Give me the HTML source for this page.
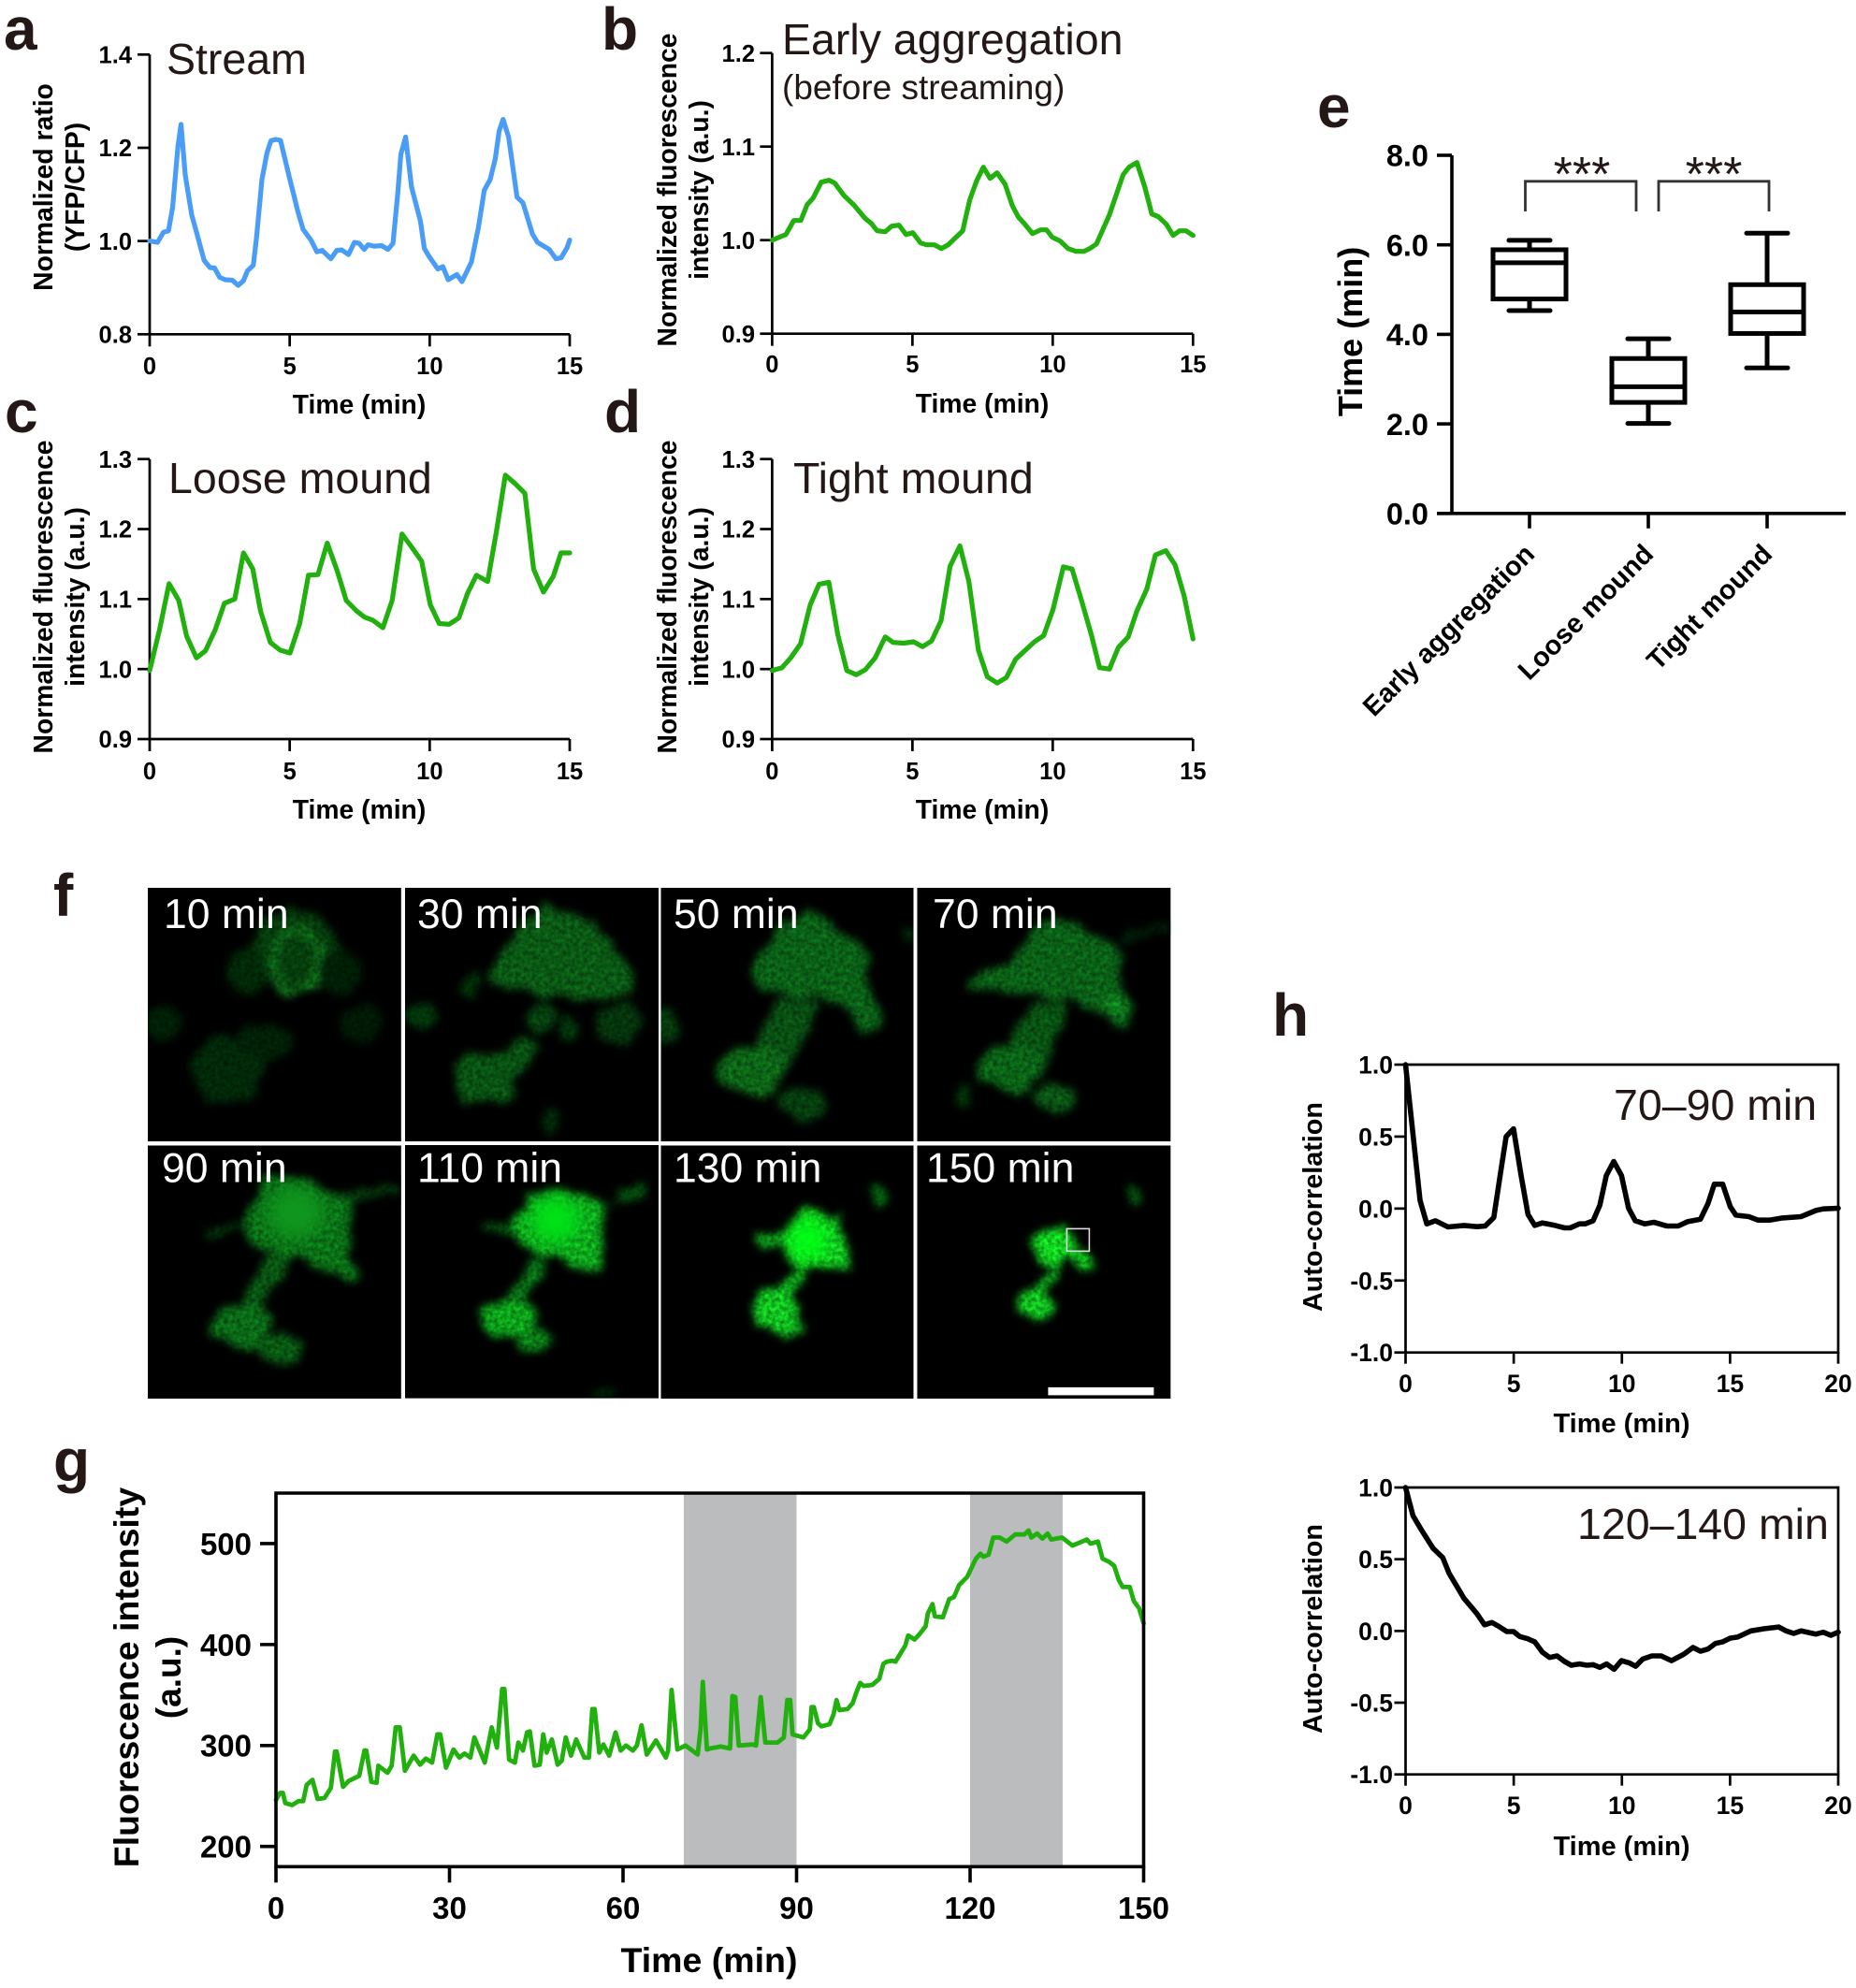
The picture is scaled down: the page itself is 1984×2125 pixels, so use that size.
<!DOCTYPE html>
<html lang="en">
<head>
<meta charset="utf-8">
<title>Fluorescence oscillation figure</title>
<style>
html,body{margin:0;padding:0;background:#fff;}
body{width:1984px;height:2125px;overflow:hidden;}
svg{display:block;}
text{font-family:"Liberation Sans",Arial,sans-serif;}
.letter{font-size:64px;font-weight:700;fill:#231815;}
.title{font-size:46.5px;fill:#231815;}
.axt{font-size:28.3px;font-weight:700;fill:#000;}
.mic{font-size:44.5px;fill:#fff;}
.cat{font-size:29px;font-weight:700;fill:#000;}
</style>
</head>
<body>
<svg id="figure" xmlns="http://www.w3.org/2000/svg" width="1984" height="2125" viewBox="0 0 1984 2125">
<defs>
<filter id="b1" x="-25%" y="-25%" width="150%" height="150%" color-interpolation-filters="sRGB">
<feTurbulence type="fractalNoise" baseFrequency=".04" numOctaves="3" seed="4" result="n"/>
<feDisplacementMap in="SourceGraphic" in2="n" scale="20" xChannelSelector="R" yChannelSelector="G" result="d"/>
<feGaussianBlur in="d" stdDeviation="4.5" result="s"/>
<feTurbulence type="fractalNoise" baseFrequency=".22" numOctaves="2" seed="9" result="g"/>
<feColorMatrix in="g" type="matrix" values="0 1 0 0 0  0 1 0 0 0  0 1 0 0 0  0 0 0 0 1" result="gray"/>
<feComposite in="s" in2="gray" operator="arithmetic" k1="1" k2=".5" k3="0" k4="0"/>
</filter>
<filter id="b2" x="-60%" y="-60%" width="220%" height="220%" color-interpolation-filters="sRGB"><feGaussianBlur stdDeviation="9"/></filter>
</defs>
<rect width="1984" height="2125" fill="#fff"/>

<!-- panel letters -->
<text class="letter" x="4" y="53">a</text>
<text class="letter" x="643" y="53">b</text>
<text class="letter" x="5" y="462">c</text>
<text class="letter" x="646" y="462">d</text>
<text class="letter" x="1408" y="136">e</text>
<text class="letter" x="57" y="979">f</text>
<text class="letter" x="57" y="1583">g</text>
<text class="letter" x="1360" y="1107">h</text>

<!-- titles -->
<text class="title" x="178" y="79">Stream</text>
<text class="title" x="836" y="58">Early aggregation</text>
<text class="title" x="836" y="106" style="font-size:37px">(before streaming)</text>
<text class="title" x="180" y="527">Loose mound</text>
<text class="title" x="848" y="527">Tight mound</text>
<text class="title" x="1725" y="1197">70–90 min</text>
<text class="title" x="1686" y="1645">120–140 min</text>

<!-- axis titles -->
<text class="axt" text-anchor="middle" transform="translate(56 200) rotate(-90)">Normalized ratio</text>
<text class="axt" text-anchor="middle" transform="translate(90 200) rotate(-90)">(YFP/CFP)</text>
<text class="axt" text-anchor="middle" transform="translate(723 203) rotate(-90)">Normalized fluorescence</text>
<text class="axt" text-anchor="middle" transform="translate(757 203) rotate(-90)">intensity (a.u.)</text>
<text class="axt" text-anchor="middle" transform="translate(56 638) rotate(-90)">Normalized fluorescence</text>
<text class="axt" text-anchor="middle" transform="translate(90 638) rotate(-90)">intensity (a.u.)</text>
<text class="axt" text-anchor="middle" transform="translate(723 638) rotate(-90)">Normalized fluorescence</text>
<text class="axt" text-anchor="middle" transform="translate(757 638) rotate(-90)">intensity (a.u.)</text>
<text class="axt" text-anchor="middle" x="384" y="442">Time (min)</text>
<text class="axt" text-anchor="middle" x="1050" y="441">Time (min)</text>
<text class="axt" text-anchor="middle" x="384" y="875">Time (min)</text>
<text class="axt" text-anchor="middle" x="1050" y="875">Time (min)</text>
<text class="axt" text-anchor="middle" style="font-size:36px" transform="translate(1456 354.5) rotate(-90)">Time (min)</text>
<text class="axt" text-anchor="middle" style="font-size:37.5px" transform="translate(148 1793) rotate(-90)">Fluorescence intensity</text>
<text class="axt" text-anchor="middle" style="font-size:37px" transform="translate(193 1793) rotate(-90)">(a.u.)</text>
<text class="axt" text-anchor="middle" style="font-size:37.5px" x="758" y="2108">Time (min)</text>
<text class="axt" text-anchor="middle" style="font-size:28.8px" transform="translate(1413 1290) rotate(-90)">Auto-correlation</text>
<text class="axt" text-anchor="middle" style="font-size:28.8px" transform="translate(1413 1741) rotate(-90)">Auto-correlation</text>
<text class="axt" text-anchor="middle" style="font-size:29px" x="1733.5" y="1531">Time (min)</text>
<text class="axt" text-anchor="middle" style="font-size:29px" x="1733.5" y="1983">Time (min)</text>

<!-- significance brackets -->
<path d="M1630.5 226V193.8H1749V226" fill="none" stroke="#333" stroke-width="2.8"/>
<path d="M1773 226V193.8H1891V226" fill="none" stroke="#333" stroke-width="2.8"/>
<text text-anchor="middle" x="1691" y="204" font-size="52" fill="#231815">***</text>
<text text-anchor="middle" x="1832" y="204" font-size="52" fill="#231815">***</text>

<!-- category labels -->
<text class="cat" text-anchor="end" transform="translate(1642 594) rotate(-45)">Early aggregation</text>
<text class="cat" text-anchor="end" transform="translate(1769 594) rotate(-45)">Loose mound</text>
<text class="cat" text-anchor="end" transform="translate(1896 594) rotate(-45)">Tight mound</text>

<!-- micrographs -->
<g>
<svg x="158" y="949" width="270.8" height="271">
<rect width="271" height="271" fill="#000"/>
<g filter="url(#b1)">
<ellipse cx="155" cy="68" rx="48" ry="44" fill="rgb(5,60,12)"/>
<ellipse cx="105" cy="90" rx="23" ry="25" fill="rgb(0,40,7)"/>
<ellipse cx="205" cy="90" rx="24" ry="22" fill="rgb(0,30,5)"/>
<ellipse cx="85" cy="195" rx="38" ry="36" fill="rgb(0,40,8)"/>
<ellipse cx="125" cy="165" rx="32" ry="20" fill="rgb(0,32,6)"/>
<ellipse cx="18" cy="145" rx="20" ry="20" fill="rgb(0,32,6)"/>
<ellipse cx="228" cy="145" rx="22" ry="18" fill="rgb(0,26,5)"/>
<ellipse cx="158" cy="78" rx="26" ry="33" fill="rgb(5,62,12)" stroke="rgb(20,140,34)" stroke-width="5"/>
</g>
</svg>
<svg x="433" y="949" width="271" height="271">
<rect width="271" height="271" fill="#000"/>
<g filter="url(#b1)">
<path d="M93 100L115 50L150 24L200 40L240 90L235 112L170 115Z" fill="rgb(10,88,20)" stroke="rgb(10,88,20)" stroke-width="8" stroke-linejoin="round"/>
<ellipse cx="145" cy="138" rx="17" ry="15" fill="rgb(5,65,14)"/>
<rect x="56" y="177" width="62" height="52" rx="16" fill="rgb(8,82,18)"/>
<path d="M105 190L125 160L142 165L120 205Z" fill="rgb(8,80,18)"/>
<ellipse cx="18" cy="137" rx="18" ry="14" fill="rgb(0,55,10)"/>
<ellipse cx="72" cy="105" rx="9" ry="15" fill="rgb(0,48,8)"/>
<ellipse cx="175" cy="150" rx="12" ry="9" fill="rgb(0,55,10)"/>
<ellipse cx="228" cy="145" rx="24" ry="20" fill="rgb(4,52,12)"/>
<ellipse cx="155" cy="250" rx="10" ry="14" fill="rgb(0,42,8)"/>
</g>
</svg>
<svg x="706.5" y="949" width="270" height="271">
<rect width="271" height="271" fill="#000"/>
<g filter="url(#b1)">
<path d="M103 85L125 45L160 27L185 50L220 70L215 105L232 145L220 150L190 118L130 112L105 105Z" fill="rgb(10,95,22)" stroke="rgb(10,95,22)" stroke-width="8" stroke-linejoin="round"/>
<path d="M125 118L170 125L150 165L130 205L100 170Z" fill="rgb(9,78,18)"/>
<ellipse cx="98" cy="195" rx="35" ry="27" fill="rgb(12,100,22)"/>
<ellipse cx="150" cy="233" rx="26" ry="18" fill="rgb(5,62,14)"/>
<ellipse cx="5" cy="148" rx="12" ry="20" fill="rgb(4,58,12)"/>
<ellipse cx="265" cy="50" rx="8" ry="8" fill="rgb(0,38,8)"/>
</g>
</svg>
<svg x="980.4" y="949" width="271" height="271">
<rect width="271" height="271" fill="#000"/>
<g filter="url(#b1)">
<path d="M105 82L118 50L150 30L185 55L215 70L213 105L227 130L222 148L190 130L165 118L108 112L60 104L65 92L90 85Z" fill="rgb(10,95,22)" stroke="rgb(10,95,22)" stroke-width="6" stroke-linejoin="round"/>
<ellipse cx="212" cy="125" rx="13" ry="14" fill="rgb(15,125,28)"/>
<path d="M125 122L165 125L145 165L135 205L90 175Z" fill="rgb(8,82,18)"/>
<ellipse cx="100" cy="192" rx="33" ry="26" fill="rgb(10,98,22)"/>
<ellipse cx="146" cy="226" rx="22" ry="16" fill="rgb(10,85,20)"/>
<ellipse cx="50" cy="222" rx="8" ry="11" fill="rgb(0,55,10)"/>
<path d="M215 55L271 40" stroke="rgb(0,34,8)" stroke-width="7"/>
</g>
</svg>
<svg x="158" y="1224.4" width="270.8" height="270.6">
<rect width="271" height="271" fill="#000"/>
<g filter="url(#b1)">
<path d="M112 65L125 38L150 32L190 55L212 60L212 115L222 142L195 135L165 118L120 112L112 90Z" fill="rgb(10,112,22)" stroke="rgb(10,112,22)" stroke-width="8" stroke-linejoin="round"/>
<path d="M204 55L269 46" stroke="rgb(5,62,14)" stroke-width="7"/>
<path d="M60 97L112 81" stroke="rgb(5,58,12)" stroke-width="9"/>
<path d="M142 114L111 174" stroke="rgb(8,85,18)" stroke-width="24"/>
<ellipse cx="100" cy="192" rx="31" ry="24" fill="rgb(10,105,22)"/>
<ellipse cx="140" cy="218" rx="23" ry="17" fill="rgb(8,88,18)"/>
</g>
<ellipse cx="158" cy="72" rx="30" ry="28" fill="rgb(15,150,30)" filter="url(#b2)"/>
</svg>
<svg x="433" y="1224" width="271" height="270.6">
<rect width="271" height="271" fill="#000"/>
<g filter="url(#b1)">
<path d="M122 80L135 56L165 50L205 66L208 100L213 128L205 136L180 128L160 116L125 108Z" fill="rgb(14,165,28)" stroke="rgb(14,165,28)" stroke-width="6" stroke-linejoin="round"/>
<path d="M205 66L230 54" stroke="rgb(5,80,16)" stroke-width="3"/>
<path d="M227 50L256 42L257 58L232 58Z" fill="rgb(5,85,16)"/>
<path d="M81 88L119 88" stroke="rgb(5,92,16)" stroke-width="10"/>
<path d="M142 121L122 165" stroke="rgb(8,115,22)" stroke-width="18"/>
<ellipse cx="108" cy="186" rx="32" ry="22" fill="rgb(12,160,26)"/>
<ellipse cx="140" cy="210" rx="17" ry="14" fill="rgb(10,125,22)"/>
<ellipse cx="213" cy="264" rx="13" ry="5" fill="rgb(0,50,8)"/>
</g>
<ellipse cx="161" cy="80" rx="26" ry="24" fill="rgb(0,225,24)" filter="url(#b2)"/>
</svg>
<svg x="706.5" y="1224.4" width="270" height="270.6">
<rect width="271" height="271" fill="#000"/>
<g filter="url(#b1)">
<ellipse cx="160" cy="102" rx="31" ry="31" fill="rgb(18,205,32)"/>
<path d="M172 75L194 76L204 135L175 130Z" fill="rgb(18,195,32)"/>
<ellipse cx="116" cy="101" rx="15" ry="9" fill="rgb(15,165,28)"/>
<path d="M150 129L133 159" stroke="rgb(15,170,28)" stroke-width="15"/>
<ellipse cx="122" cy="177" rx="25" ry="24" fill="rgb(18,195,32)"/>
<ellipse cx="140" cy="196" rx="11" ry="10" fill="rgb(16,175,30)"/>
<ellipse cx="235" cy="53" rx="10" ry="10" fill="rgb(5,105,18)"/>
</g>
<ellipse cx="158" cy="101" rx="20" ry="20" fill="rgb(0,255,20)" filter="url(#b2)"/>
</svg>
<svg x="980.4" y="1224.4" width="271" height="270.6">
<rect width="271" height="271" fill="#000"/>
<g filter="url(#b1)">
<ellipse cx="146" cy="109" rx="26" ry="20" fill="rgb(18,210,32)"/>
<path d="M155 112L176 112L189 132L175 134Z" fill="rgb(16,190,30)"/>
<path d="M147 129L133 155" stroke="rgb(15,170,28)" stroke-width="11"/>
<ellipse cx="128" cy="171" rx="19" ry="17" fill="rgb(18,195,32)"/>
<ellipse cx="233" cy="53" rx="8" ry="8" fill="rgb(5,95,16)"/>
</g>
<rect x="160" y="89" width="24" height="24" fill="none" stroke="#ddd" stroke-width="1.6"/>
<rect x="140" y="258.5" width="113" height="8.5" fill="#fff"/>
</svg>
</g>
<text class="mic" x="175" y="992">10 min</text>
<text class="mic" x="446" y="992">30 min</text>
<text class="mic" x="720" y="992">50 min</text>
<text class="mic" x="997" y="992">70 min</text>
<text class="mic" x="173" y="1263.5">90 min</text>
<text class="mic" x="446" y="1263.5">110 min</text>
<text class="mic" x="720" y="1263.5">130 min</text>
<text class="mic" x="990" y="1263.5">150 min</text>
</svg>

<script>
/* ---------- data ---------- */
const streamTimes=[0,.28,.49,.67,.82,1.01,1.12,1.27,1.5,1.69,1.94,2.15,2.32,2.5,2.7,2.95,3.16,3.35,3.49,3.7,3.82,4.01,4.19,4.33,4.5,4.67,4.99,5.3,5.48,5.76,5.97,6.16,6.47,6.68,6.86,7.1,7.31,7.48,7.66,7.8,8.01,8.29,8.51,8.69,8.86,8.97,9.14,9.35,9.67,9.81,9.98,10.29,10.47,10.66,10.97,11.15,11.49,11.74,11.95,12.16,12.34,12.48,12.62,12.82,13.12,13.33,13.67,13.85,14.27,14.51,14.69,14.9,15];
const streamValues=[1,.997,1.019,1.022,1.072,1.203,1.25,1.142,1.056,1.015,.959,.943,.942,.922,.917,.916,.905,.915,.936,.948,1.009,1.132,1.189,1.215,1.218,1.216,1.136,1.062,1.025,1.002,.977,.98,.962,.98,.981,.971,.997,.995,.982,.992,.989,.99,.982,.995,1.102,1.186,1.223,1.116,1.042,.984,.967,.94,.945,.917,.928,.913,.955,1.029,1.109,1.132,1.176,1.236,1.261,1.223,1.094,1.082,1.015,.997,.982,.962,.964,.985,1.002];

const earlyTimes=[0,.49,.77,1.02,1.25,1.46,1.75,2.03,2.23,2.55,2.9,3.32,3.53,3.74,4.03,4.26,4.52,4.77,5.01,5.29,5.5,5.78,6.03,6.27,6.79,7.04,7.28,7.53,7.77,8.02,8.3,8.56,8.77,8.98,9.28,9.57,9.78,9.99,10.27,10.55,10.83,11.11,11.32,11.56,12.02,12.51,12.72,13,13.28,13.53,13.77,14.05,14.29,14.52,14.75,15];
const earlyValues=[1,1.006,1.021,1.021,1.038,1.045,1.062,1.064,1.061,1.048,1.038,1.023,1.018,1.01,1.009,1.015,1.016,1.006,1.008,.997,.995,.995,.991,.995,1.01,1.043,1.063,1.078,1.066,1.072,1.06,1.037,1.025,1.018,1.007,1.011,1.011,1.003,.999,.991,.988,.988,.991,.996,1.027,1.07,1.078,1.083,1.057,1.028,1.025,1.017,1.005,1.01,1.01,1.005];

const looseTimes=[0,.35,.69,1.04,1.32,1.67,1.99,2.34,2.67,3.04,3.35,3.68,3.96,4.31,4.66,5.01,5.36,5.67,6.01,6.34,6.69,7.02,7.39,7.68,7.96,8.33,8.66,9.01,9.36,9.71,10.02,10.34,10.69,11.04,11.35,11.67,12.07,12.38,12.7,13.05,13.4,13.71,14.06,14.41,14.69,15];
const looseValues=[.998,1.056,1.122,1.098,1.047,1.016,1.026,1.056,1.094,1.1,1.166,1.143,1.083,1.038,1.027,1.023,1.065,1.134,1.135,1.18,1.141,1.098,1.083,1.074,1.07,1.059,1.098,1.193,1.174,1.154,1.092,1.065,1.064,1.073,1.108,1.134,1.125,1.196,1.277,1.265,1.251,1.143,1.11,1.132,1.166,1.166];

const tightTimes=[0,.35,.66,1.01,1.36,1.67,2.02,2.34,2.66,3,3.32,3.67,4.03,4.31,4.68,5.04,5.36,5.68,6.02,6.34,6.69,7.01,7.35,7.67,8.02,8.35,8.68,9,9.35,9.68,10.01,10.38,10.69,11.04,11.39,11.67,12.02,12.34,12.69,13,13.35,13.66,14.03,14.36,14.68,15];
const tightValues=[.998,1.002,1.016,1.036,1.092,1.121,1.124,1.049,.998,.992,.999,1.016,1.046,1.038,1.037,1.039,1.032,1.04,1.069,1.147,1.176,1.125,1.027,.989,.98,.988,1.014,1.026,1.039,1.048,1.085,1.146,1.143,1.096,1.047,1.002,1,1.031,1.046,1.083,1.114,1.163,1.169,1.149,1.105,1.043];

const intensityTimes=[0,.7,1.2,1.6,2.8,3.9,4.7,5.3,6.3,7.2,8.4,9.5,10.2,10.5,11.6,12.6,14.4,15.3,15.6,16.5,17.4,17.7,19.3,20,20.7,21.4,22.3,23.1,23.8,24.9,25.9,27,27.9,28.4,29.4,30.7,31.7,32.6,33.6,34.3,36.1,37.3,38.2,39.1,39.5,40.3,41.3,41.9,42.7,43.4,43.9,44.7,45.6,46.2,46.8,47.7,48.7,49.4,50.1,51,51.9,53.3,54.1,54.7,55.1,55.9,56.6,57.6,58.7,59.6,60.5,61.7,62.4,63.2,64.1,65.7,67.4,67.8,68.4,69.4,70.8,72.9,73.4,73.8,74.5,75,76.9,78.5,78.9,79.4,80,82.4,83,83.8,84.6,86.7,87.8,88.4,88.9,89.3,91.2,92.3,92.6,93,93.7,94.3,95.7,96.4,96.9,97.4,98.8,99.7,100.3,101,101.6,103.1,104.3,105,105.6,106.5,107.1,108.8,109.3,110.4,111.2,112.3,112.7,113.5,113.9,115.3,116.4,117.2,118.1,119.5,121,121.8,122.3,123.2,124,125.1,126.3,127.8,129.4,130.1,130.6,131.6,132.5,133.4,134,135.9,137.7,140.2,140.8,142.1,142.9,144,144.9,145.7,146.4,147.6,148.3,149.2,150];
const intensityValues=[246,253,253,243,241,245,245,261,266,247,248,258,294,294,259,265,270,295,295,264,263,280,273,280,318,318,275,283,290,281,287,283,311,311,278,296,288,292,288,308,283,318,298,356,356,286,283,303,295,313,314,280,281,311,293,306,281,285,308,290,306,288,288,336,336,293,301,290,313,295,300,295,300,320,291,305,288,295,355,296,300,291,316,363,296,297,299,297,349,348,300,301,300,348,303,303,308,345,345,311,308,316,338,338,322,319,321,331,345,335,336,342,352,362,359,360,366,381,383,384,383,399,409,405,410,418,431,440,428,427,445,447,459,467,485,490,487,489,506,506,502,509,509,513,506,510,505,510,504,506,498,504,500,502,485,482,478,464,457,457,443,436,421];
const shadeStarts=[70.5,120];
const shadeEnds=[90,136];

const acfEarlyTimes=[0,.67,.98,1.38,1.96,2.7,3.3,3.68,4.08,4.37,4.65,4.99,5.34,5.66,5.97,6.32,6.92,7.35,7.61,8.04,8.3,8.67,8.98,9.28,9.62,9.98,10.31,10.62,11.05,11.48,12.08,12.6,13.03,13.63,13.98,14.27,14.66,15.01,15.27,15.87,16.3,16.82,17.42,18.28,18.97,19.31,20];
const acfEarlyValues=[1,.056,-.106,-.085,-.128,-.117,-.126,-.121,-.063,.23,.5,.555,.23,-.041,-.117,-.1,-.117,-.134,-.134,-.106,-.106,-.085,.024,.23,.327,.23,.002,-.085,-.106,-.095,-.121,-.121,-.091,-.074,.035,.169,.169,.013,-.046,-.056,-.08,-.08,-.065,-.056,-.013,-.002,.002];

const acfLateTimes=[0,.34,.72,1.27,1.72,2.01,2.7,3.3,3.65,3.99,4.3,4.68,4.99,5.28,5.63,5.97,6.32,6.66,7,7.35,7.66,8.04,8.38,8.67,8.98,9.29,9.64,9.98,10.33,10.64,10.96,11.39,11.82,12.29,12.86,13.29,13.63,13.98,14.32,14.66,15.01,15.35,15.96,16.56,17.25,17.59,17.94,18.28,18.97,19.31,19.66,20];
const acfLateValues=[1,.804,.707,.576,.511,.402,.228,.12,.043,.059,.033,-.004,-.004,-.039,-.054,-.076,-.148,-.185,-.174,-.213,-.239,-.23,-.239,-.235,-.254,-.23,-.267,-.207,-.222,-.246,-.196,-.174,-.174,-.207,-.163,-.115,-.141,-.126,-.087,-.076,-.05,-.043,0,.015,.028,0,-.017,0,-.022,-.009,-.03,-.009];

const boxCategories=['Early aggregation','Loose mound','Tight mound'];
const whiskerHigh=[6.1,3.9,6.26];
const boxQ3=[5.89,3.46,5.11];
const boxMedian=[5.6,2.83,4.5];
const boxQ1=[4.79,2.48,4.02];
const whiskerLow=[4.53,2.01,3.25];

const ticksX15=['0','5','10','15'];
const ticksX20=['0','5','10','15','20'];
const ticksXg=['0','30','60','90','120','150'];
const ticksYa=['0.8','1.0','1.2','1.4'];
const ticksYb=['0.9','1.0','1.1','1.2'];
const ticksYcd=['0.9','1.0','1.1','1.2','1.3'];
const ticksYe=['0.0','2.0','4.0','6.0','8.0'];
const ticksYg=['200','300','400','500'];
const ticksYh=['-1.0','-0.5','0.0','0.5','1.0'];

/* ---------- drawing ---------- */
const NS='http://www.w3.org/2000/svg';
const fig=document.getElementById('figure');
function add(tag){const e=document.createElementNS(NS,tag);fig.appendChild(e);return e;}
function set(e,o){for(const k in o)e.setAttribute(k,o[k]);return e;}

function xScale(p,v){return p.l+(v-p.xMin)/(p.xMax-p.xMin)*(p.r-p.l);}
function yScale(p,v){return p.b-(v-p.yMin)/(p.yMax-p.yMin)*(p.b-p.t);}

function drawAxes(p,xTicks,yTicks){
  const ax=add('path');
  
  
  const d=p.frame?`M${p.l} ${p.b}V${p.t}H${p.r}V${p.b}Z`:`M${p.l} ${p.t}V${p.b}H${p.r}`;
  set(ax,{d:d,fill:'none',stroke:'#000','stroke-width':p.axisW});
  xTicks.forEach(function(lab){
    const x=xScale(p,Number(lab));
    const tk=add('line');
    
    
    set(tk,{x1:x,x2:x,y1:p.b,y2:p.b+p.tick,stroke:'#000','stroke-width':p.axisW});
    const tx=add('text');
    
    
    set(tx,{x:x,y:p.xLabelY,'text-anchor':'middle','font-size':p.fs,'font-weight':700,fill:'#000'});
    tx.textContent=lab;
  });
  yTicks.forEach(function(lab){
    const y=yScale(p,Number(lab));
    const tk=add('line');
    
    
    set(tk,{x1:p.l-p.tick,x2:p.l,y1:y,y2:y,stroke:'#000','stroke-width':p.axisW});
    const tx=add('text');
    
    
    set(tx,{x:p.yLabelX,y:y+p.fs*.36,'text-anchor':'end','font-size':p.fs,'font-weight':700,fill:'#000'});
    tx.textContent=lab;
  });
}
function drawLine(p,ts,vs){
  const ln=add('polyline');
  
  
  const pts=ts.map(function(t,i){return xScale(p,t).toFixed(1)+','+yScale(p,vs[i]).toFixed(1);}).join(' ');
  set(ln,{points:pts,fill:'none',stroke:p.color,'stroke-width':p.lineW,'stroke-linejoin':'round','stroke-linecap':'round'});
}

const GREEN='#21b00e';
const base={xMin:0,xMax:15,axisW:2.7,tick:13,fs:25.5,lineW:5.2};
const pa=Object.assign({},base,{id:'a',l:160,r:609,t:58.3,b:357.3,yMin:.8,yMax:1.4,xLabelY:400,yLabelX:141,color:'#4a9df7'});
const pb=Object.assign({},base,{id:'b',l:825.4,r:1275.3,t:56.7,b:356.7,yMin:.9,yMax:1.2,xLabelY:398,yLabelX:807,color:GREEN});
const pc=Object.assign({},base,{id:'c',l:160,r:609,t:490.7,b:790,yMin:.9,yMax:1.3,xLabelY:833,yLabelX:141,color:GREEN});
const pd=Object.assign({},base,{id:'d',l:825.4,r:1275.3,t:490.7,b:790,yMin:.9,yMax:1.3,xLabelY:833,yLabelX:807,color:GREEN});
drawAxes(pa,ticksX15,ticksYa);drawLine(pa,streamTimes,streamValues);
drawAxes(pb,ticksX15,ticksYb);drawLine(pb,earlyTimes,earlyValues);
drawAxes(pc,ticksX15,ticksYcd);drawLine(pc,looseTimes,looseValues);
drawAxes(pd,ticksX15,ticksYcd);drawLine(pd,tightTimes,tightValues);

/* panel g */
const pg={id:'g',l:295,r:1222.5,t:1596,b:1995.3,xMin:0,xMax:150,yMin:180,yMax:550,axisW:3.6,tick:17,fs:33,lineW:4.8,xLabelY:2051,yLabelX:269,color:GREEN,frame:true};
shadeStarts.forEach(function(s,i){
  const r=add('rect');
  
  
  set(r,{x:xScale(pg,s),y:pg.t,width:xScale(pg,shadeEnds[i])-xScale(pg,s),height:pg.b-pg.t,fill:'#bbbcbe'});
});
drawLine(pg,intensityTimes,intensityValues);
drawAxes(pg,ticksXg,ticksYg);

/* panels h */
const hBase={xMin:0,xMax:20,yMin:-1,yMax:1,axisW:2.7,tick:12,fs:26.5,lineW:5.6,l:1502.5,r:1965,yLabelX:1489,color:'#000',frame:true};
const ph1=Object.assign({},hBase,{id:'h-top',t:1138,b:1445.7,xLabelY:1488});
const ph2=Object.assign({},hBase,{id:'h-bottom',t:1590,b:1896.7,xLabelY:1939});
drawAxes(ph1,ticksX20,ticksYh);drawLine(ph1,acfEarlyTimes,acfEarlyValues);
drawAxes(ph2,ticksX20,ticksYh);drawLine(ph2,acfLateTimes,acfLateValues);

/* panel e : box plot */
const pe={id:'e',l:1552,r:1973,t:166,b:548.8,xMin:0,xMax:1,yMin:0,yMax:8,axisW:3.6,tick:16,fs:32.5,yLabelX:1527};
function catX(i){return 1635+127*i;}
const eAxis=add('path');


set(eAxis,{d:`M${pe.l} ${pe.t}V${pe.b}M${pe.l-pe.tick} ${pe.b}H${pe.r}`,fill:'none',stroke:'#000','stroke-width':pe.axisW});
ticksYe.forEach(function(lab){
  const y=yScale(pe,Number(lab));
  const tk=add('line');
  
  
  set(tk,{x1:pe.l-pe.tick,x2:pe.l,y1:y,y2:y,stroke:'#000','stroke-width':pe.axisW});
  const tx=add('text');
  
  
  set(tx,{x:pe.yLabelX,y:y+pe.fs*.36,'text-anchor':'end','font-size':pe.fs,'font-weight':700,fill:'#000'});
  tx.textContent=lab;
});
boxCategories.forEach(function(cat,i){
  const cx=catX(i);
  const tk=add('line');
  
  
  set(tk,{x1:cx,x2:cx,y1:pe.b,y2:pe.b+pe.tick,stroke:'#000','stroke-width':pe.axisW});
  const hi=yScale(pe,whiskerHigh[i]),lo=yScale(pe,whiskerLow[i]);
  const q3=yScale(pe,boxQ3[i]),q1=yScale(pe,boxQ1[i]),md=yScale(pe,boxMedian[i]);
  const wh=add('path');
  
  
  set(wh,{d:`M${cx-22} ${hi}H${cx+22}M${cx} ${hi}V${q3}M${cx} ${q1}V${lo}M${cx-22} ${lo}H${cx+22}`,fill:'none',stroke:'#000','stroke-width':5,'stroke-linecap':'round'});
  const bx=add('rect');
  
  
  set(bx,{x:cx-39,y:q3,width:78,height:q1-q3,fill:'#fff',stroke:'#000','stroke-width':5});
  const me=add('line');
  
  
  set(me,{x1:cx-39,x2:cx+39,y1:md,y2:md,stroke:'#000','stroke-width':5});
});
</script>
</body>
</html>
